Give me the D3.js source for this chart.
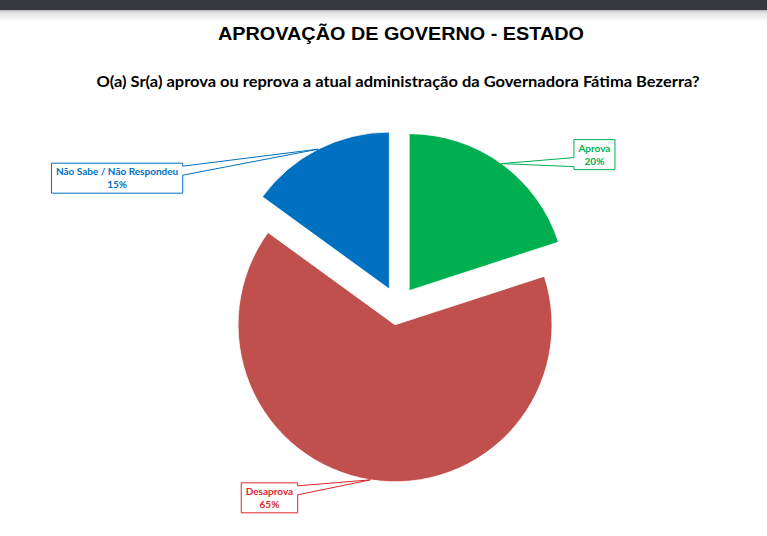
<!DOCTYPE html>
<html>
<head>
<meta charset="utf-8">
<script src="https://cdn.jsdelivr.net/npm/d3@7"></script>
<style>
  html, body { margin: 0; padding: 0; background: #ffffff; }
  svg { display: block; }
</style>
</head>
<body>
<div class="chart"></div>
<script>
// chart data
const categories = ["Aprova", "Desaprova", "Não Sabe / Não Respondeu"];
const values = [20, 65, 15];
const sliceColours = ["#00b050", "#c0504d", "#0070c0"];
const labelColours = ["#00b050", "#e0262b", "#0070c0"];

// label box offsets from the leader tip (layout only)
const labelOffsets = [[93, -9], [-101, 18], [-201, 29]];

const width = 767, height = 536;
const centre = { x: 398, y: 306 };
const radius = 157;
const explode = 19;

let svg = d3.select(".chart").append("svg")
    .attr("width", width)
    .attr("height", height);

// page chrome: dark bar + shadow
let defs = svg.append("defs");
let grad = defs.append("linearGradient")
    .attr("id", "shade")
    .attr("x1", 0).attr("x2", 0).attr("y1", 0).attr("y2", 1);
grad.append("stop").attr("offset", 0).attr("stop-color", "#b9babc");
grad.append("stop").attr("offset", 0.25).attr("stop-color", "#e4e4e4");
grad.append("stop").attr("offset", 1).attr("stop-color", "#ffffff");

svg.append("rect").attr("x", 0).attr("y", 10).attr("width", width).attr("height", 12)
    .attr("fill", "url(#shade)");
svg.append("rect").attr("x", 0).attr("y", 0).attr("width", width).attr("height", 10)
    .attr("fill", "#35383c");

// titles
svg.append("text")
    .attr("x", 401).attr("y", 40)
    .attr("text-anchor", "middle")
    .style("font-family", "'Liberation Sans', Arial, sans-serif")
    .style("font-weight", "bold")
    .style("font-size", "19px")
    .attr("fill", "#000")
    .attr("textLength", 366)
    .attr("lengthAdjust", "spacingAndGlyphs")
    .text("APROVAÇÃO DE GOVERNO - ESTADO");

svg.append("text")
    .attr("x", 398).attr("y", 87)
    .attr("text-anchor", "middle")
    .style("font-family", "Lato, 'Open Sans', sans-serif")
    .style("font-weight", "bold")
    .style("font-size", "14.5px")
    .attr("fill", "#000")
    .attr("textLength", 603)
    .attr("lengthAdjust", "spacingAndGlyphs")
    .text("O(a) Sr(a) aprova ou reprova a atual administração da Governadora Fátima Bezerra?");

// pie
let pie = d3.pie().sort(null).value(d => d);
let arc = d3.arc().innerRadius(0).outerRadius(radius);
let pieData = pie(values);

function sliceCentre(d) {
    const a = (d.startAngle + d.endAngle) / 2;
    return [centre.x + explode * Math.sin(a), centre.y - explode * Math.cos(a)];
}

let slices = svg.append("g").classed("pie", true);
slices.selectAll("path")
    .data(pieData)
    .enter()
        .append("path")
        .attr("transform", d => "translate(" + sliceCentre(d) + ")")
        .attr("d", arc)
        .attr("fill", (d, i) => sliceColours[i])
        .attr("stroke", "#ffffff")
        .attr("stroke-width", 0.8);

// callout labels
function calloutPath(bx, by, bw, bh, tip) {
    const half = 4.5;
    const cy = Math.max(by + bh * 0.25, Math.min(by + bh * 0.75, tip[1]));
    const y1 = cy - half, y2 = cy + half;
    if (tip[0] < bx) {
        return "M" + bx + "," + by + "H" + (bx + bw) + "V" + (by + bh) + "H" + bx +
            "V" + y2 + "L" + tip[0] + "," + tip[1] + "L" + bx + "," + y1 + "Z";
    }
    return "M" + bx + "," + by + "H" + (bx + bw) + "V" + y1 + "L" + tip[0] + "," + tip[1] +
        "L" + (bx + bw) + "," + y2 + "V" + (by + bh) + "H" + bx + "Z";
}

let labels = svg.append("g").classed("labels", true);
pieData.forEach((d, i) => {
    const c = sliceCentre(d);
    const a = (d.startAngle + d.endAngle) / 2;
    const tip = [c[0] + radius * Math.sin(a), c[1] - radius * Math.cos(a)];
    const lx = tip[0] + labelOffsets[i][0], ly = tip[1] + labelOffsets[i][1];

    let g = labels.append("g");
    let path = g.append("path")
        .attr("fill", "#ffffff")
        .attr("stroke", labelColours[i])
        .attr("stroke-width", 1);

    let t1 = g.append("text")
        .attr("x", lx).attr("y", ly - 3)
        .attr("text-anchor", "middle")
        .style("font-family", "Lato, 'Open Sans', sans-serif")
        .style("font-weight", "bold")
        .style("font-size", "10px")
        .attr("fill", labelColours[i])
        .text(categories[i]);
    g.append("text")
        .attr("x", lx).attr("y", ly + 10)
        .attr("text-anchor", "middle")
        .style("font-family", "Lato, 'Open Sans', sans-serif")
        .style("font-weight", "bold")
        .style("font-size", "10px")
        .attr("fill", labelColours[i])
        .text(values[i] + "%");

    const tw = t1.node().getComputedTextLength();
    const bw = tw + 9, bh = 30;
    path.attr("d", calloutPath(lx - bw / 2, ly - bh / 2, bw, bh, tip));
});
</script>
</body>
</html>
